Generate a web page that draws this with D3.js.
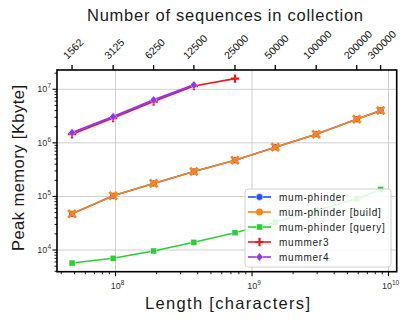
<!DOCTYPE html>
<html><head><meta charset="utf-8">
<script src="https://cdn.jsdelivr.net/npm/d3@7"></script>
<style>body{margin:0;background:#fff}svg{display:block;font-family:"Liberation Sans",Arial,sans-serif}</style>
</head><body><svg id="c" width="407" height="322"></svg>
<script>
const lengths = [4.8e7, 9.6e7, 1.9e8, 3.75e8, 7.5e8, 1.48e9, 2.95e9, 5.85e9, 8.75e9];
const seqLabels = ["1562","3125","6250","12500","25000","50000","100000","200000","300000"];
const mumBuild = [47300, 102600, 175000, 292000, 475000, 832000, 1.45e6, 2.77e6, 4.02e6];
const mumTotal = [47300, 102600, 175000, 292000, 475000, 832000, 1.45e6, 2.77e6, 4.02e6];
const mumQuery = [5710, 7000, 9580, 13900, 21000, 33000, 55000, 90000, 135000];
const mummer3 = [1.45e6, 2.9e6, 5.9e6, 1.15e7, 1.58e7];
const mummer4 = [1.55e6, 3.08e6, 6.3e6, 1.2e7];
const seriesNames = ["mum-phinder","mum-phinder [build]","mum-phinder [query]","mummer3","mummer4"];
const xMajor = [1e8, 1e9, 1e10];
const yMajor = [1e4, 1e5, 1e6, 1e7];

const L=57, R=396.7, T=70, B=271.7;
const svg = d3.select("#c");
const x = d3.scaleLog().domain([Math.pow(10,7.571), Math.pow(10,10.06)]).range([L,R]);
const y = d3.scaleLog().domain([Math.pow(10,3.595), Math.pow(10,7.36)]).range([B,T]);

// grid
const grid = svg.append("g").attr("stroke","#cfcfcf").attr("stroke-width",1);
xMajor.filter(v=>x(v)<R-2).forEach(v=>grid.append("line").attr("x1",x(v)).attr("x2",x(v)).attr("y1",T).attr("y2",B));
yMajor.forEach(v=>grid.append("line").attr("x1",L).attr("x2",R).attr("y1",y(v)).attr("y2",y(v)));

// minor ticks
const minorX=[], minorY=[];
for(let e=7;e<=10;e++) for(let m=2;m<=9;m++){const v=m*Math.pow(10,e); if(x(v)>=L&&x(v)<=R) minorX.push(v);}
for(let e=3;e<=7;e++) for(let m=2;m<=9;m++){const v=m*Math.pow(10,e); if(y(v)>=T&&y(v)<=B) minorY.push(v);}
const ax = svg.append("g").attr("stroke","#000");
minorX.forEach(v=>ax.append("line").attr("x1",x(v)).attr("x2",x(v)).attr("y1",B).attr("y2",B+2.5).attr("stroke-width",0.9));
xMajor.forEach(v=>ax.append("line").attr("x1",x(v)).attr("x2",x(v)).attr("y1",B).attr("y2",B+4.5).attr("stroke-width",1.1));
minorY.forEach(v=>ax.append("line").attr("x1",L-2.5).attr("x2",L).attr("y1",y(v)).attr("y2",y(v)).attr("stroke-width",0.9));
yMajor.forEach(v=>ax.append("line").attr("x1",L-4.5).attr("x2",L).attr("y1",y(v)).attr("y2",y(v)).attr("stroke-width",1.1));
lengths.forEach(v=>ax.append("line").attr("x1",x(v)).attr("x2",x(v)).attr("y1",T).attr("y2",T-5).attr("stroke-width",1.3));

// tick labels
function powLabel(g, v, px, py, anchor){
  const e = Math.round(Math.log10(v));
  const t = g.append("text").attr("x",px).attr("y",py).attr("text-anchor",anchor).attr("font-size",9).attr("fill","#333");
  t.append("tspan").text("10");
  t.append("tspan").attr("dy",-4).attr("font-size",6.5).text(e);
}
xMajor.forEach(v=>powLabel(svg, v, x(v)+2, 289, "middle"));
yMajor.forEach(v=>powLabel(svg, v, 51, y(v)+3, "end"));

// top labels rotated
seqLabels.forEach((s,i)=>{
  const t = svg.append("text").attr("font-size",10.5).attr("fill","#111").attr("text-anchor","middle").attr("dominant-baseline","central").text(s);
  const w = t.node().getComputedTextLength();
  const h = (w+9)*Math.SQRT1_2;
  const cx = x(lengths[i])+1, cy = 60 - h/2;
  t.attr("x",cx).attr("y",cy).attr("transform",`rotate(-45,${cx},${cy})`);
});

// titles
svg.append("text").attr("x",225).attr("y",21).attr("text-anchor","middle").attr("font-size",16.5).attr("fill","#1a1a1a")
  .attr("textLength",276).attr("lengthAdjust","spacing").text("Number of sequences in collection");
svg.append("text").attr("x",227.5).attr("y",309).attr("text-anchor","middle").attr("font-size",16.5).attr("fill","#1a1a1a")
  .attr("textLength",165).attr("lengthAdjust","spacing").text("Length [characters]");
svg.append("text").attr("transform","translate(24,168) rotate(-90)").attr("text-anchor","middle").attr("font-size",16.5).attr("fill","#1a1a1a")
  .attr("textLength",166).attr("lengthAdjust","spacing").text("Peak memory [Kbyte]");

// series
const colors = ["#1f4fff","#ff8415","#2ecc3c","#f01818","#9136ec"];
const line = d3.line().x(d=>x(d[0])).y(d=>y(d[1]));
const data = [mumTotal, mumBuild, mumQuery, mummer3, mummer4].map(a=>a.map((v,i)=>[lengths[i],v]));
const plot = svg.append("g");
function marker(g, k, px, py){
  const c = colors[k];
  if(k===0) g.append("circle").attr("cx",px).attr("cy",py).attr("r",3.4).attr("fill",c).attr("stroke","#fff").attr("stroke-width",0.5);
  else if(k===1){ const s=3.8; g.append("path").attr("d",`M${px-s},${py-s}L${px+s},${py+s}M${px-s},${py+s}L${px+s},${py-s}`).attr("stroke",c).attr("stroke-width",2.8).attr("fill","none");}
  else if(k===2) g.append("rect").attr("x",px-3).attr("y",py-3).attr("width",6).attr("height",6).attr("fill",c).attr("stroke","#fff").attr("stroke-width",0.4);
  else if(k===3){ const s=4.2; g.append("path").attr("d",`M${px-s},${py}L${px+s},${py}M${px},${py-s}L${px},${py+s}`).attr("stroke",c).attr("stroke-width",2.2).attr("fill","none");}
  else { const s=4.2; g.append("path").attr("d",`M${px},${py-s}L${px+s*0.85},${py}L${px},${py+s}L${px-s*0.85},${py}Z`).attr("fill",c).attr("stroke","#fff").attr("stroke-width",0.4);}
}
data.forEach((d,k)=>{
  plot.append("path").attr("d",line(d)).attr("fill","none").attr("stroke",colors[k]).attr("stroke-width",k===4?2:1.6);
  d.forEach(p=>marker(plot,k,x(p[0]),y(p[1])));
});

// frame
svg.append("rect").attr("x",L).attr("y",T).attr("width",R-L).attr("height",B-T).attr("fill","none").attr("stroke","#000").attr("stroke-width",1.6);

// legend
const lg = svg.append("g");
lg.append("rect").attr("x",245).attr("y",189).attr("width",146).attr("height",78).attr("rx",3).attr("fill","#fff").attr("fill-opacity",0.85).attr("stroke","#d0d0d0").attr("stroke-width",1);
seriesNames.forEach((n,k)=>{
  const yy = 197 + k*15;
  lg.append("line").attr("x1",248).attr("x2",271).attr("y1",yy).attr("y2",yy).attr("stroke",colors[k]).attr("stroke-width",1.6);
  if(k===1) lg.append("circle").attr("cx",259.5).attr("cy",yy).attr("r",3.4).attr("fill",colors[k]);
  else marker(lg,k,259.5,yy);
  lg.append("text").attr("x",279).attr("y",yy+3.5).attr("font-size",10).attr("letter-spacing",0.75).attr("fill","#222").text(n);
});
</script></body></html>
